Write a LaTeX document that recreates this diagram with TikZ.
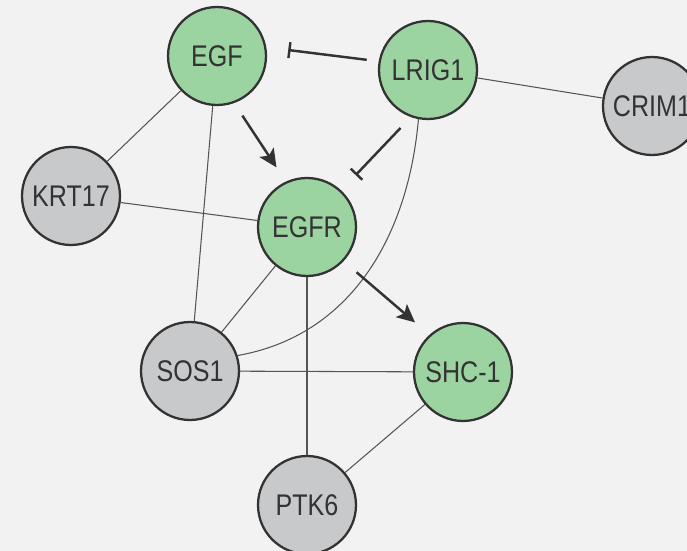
\documentclass[tikz,border=0pt]{standalone}
\usepackage{fontspec}
\setmainfont{Liberation Sans}[FakeStretch=0.84]
\usepackage{xcolor}
\usepackage{tikz}
\usetikzlibrary{arrows.meta}
\definecolor{nodegreen}{HTML}{9BD4A1}
\definecolor{nodegrey}{HTML}{C8C9CB}
\definecolor{darkline}{HTML}{333333}
\definecolor{edgegrey}{HTML}{555555}
\definecolor{backgrey}{HTML}{F2F2F2}
\tikzstyle{green node}=[circle, draw=darkline, line width=1.3pt, fill=nodegreen, minimum size=1.96cm, inner sep=0pt, text=darkline, font=\fontsize{17}{20}\selectfont]
\tikzstyle{grey node}=[green node, fill=nodegrey]
\tikzstyle{basic edge}=[draw=edgegrey, line width=0.6pt]
\tikzstyle{basic arrow}=[draw=darkline, line width=1.4pt, -{Stealth[length=0.36cm, width=0.34cm, inset=0.08cm]}]
\tikzstyle{inhibit arrow}=[draw=darkline, line width=1.4pt, -{Bar[width=0.32cm]}]

\begin{document}
\begin{tikzpicture}[x=0.02cm, y=0.02cm]
		\fill [backgrey] (0, 0) rectangle (687, -551);
		\useasboundingbox (0, 0) rectangle (687, -551);

		\node [style=green node] (0) at (217, -56) {EGF};
		\node [style=green node] (1) at (428, -70) {LRIG1};
		\node [style=grey node]  (2) at (652, -106) {CRIM1};
		\node [style=green node] (3) at (307, -227) {EGFR};
		\node [style=grey node]  (4) at (190, -371) {SOS1};
		\node [style=grey node]  (5) at (71, -196) {KRT17};
		\node [style=green node] (6) at (463, -372) {SHC-1};
		\node [style=grey node]  (7) at (307, -505) {PTK6};

		\draw [style=basic edge] (0) to (5);
		\draw [style=basic edge] (0) to (4);
		\draw [style=basic edge] (5) to (3);
		\draw [style=basic edge] (3) to (4);
		\draw [style=basic edge] (3) to (7);
		\draw [style=basic edge] (4) to (6);
		\draw [style=basic edge] (6) to (7);
		\draw [style=basic edge] (1) to (2);
		\draw [style=basic edge] (1.-101) to [out=-95, in=10] (4.18);

		\draw [style=inhibit arrow, shorten <=0.24cm, shorten >=0.44cm] (1.170) to (0.10);
		\draw [style=inhibit arrow, shorten <=0.3cm, shorten >=0.42cm] (1.250) to (3.47);
		\draw [style=basic arrow, shorten <=0.3cm, shorten >=0.34cm] (0.-70) to (3.115);
		\draw [style=basic arrow, shorten <=0.34cm, shorten >=0.38cm] (3.-43) to (6.132);

\end{tikzpicture}
\end{document}
